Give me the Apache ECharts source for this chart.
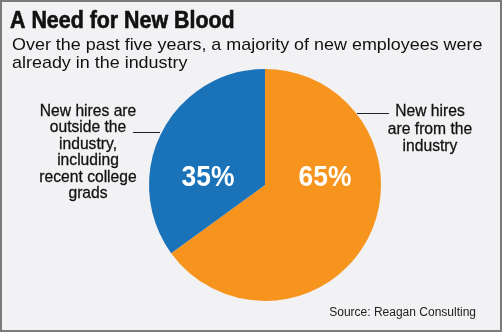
<!DOCTYPE html>
<html><head><meta charset="utf-8">
<script src="https://cdn.jsdelivr.net/npm/echarts@6/dist/echarts.min.js"></script>
<style>html,body{margin:0;padding:0;background:#f2f2f4}#c{width:502px;height:332px}</style>
</head><body><div id="c"></div>
<script>
const categories = ['New hires are from the industry', 'New hires are outside the industry, including recent college grads'];
const values = [65, 35];
const labelTexts = ['New hires\nare from the\nindustry', 'New hires are\noutside the\nindustry,\nincluding\nrecent college\ngrads'];
const colors = ['#f7941e', '#1a72b9'];
const titleText = 'A Need for New Blood';
const subtitleText = 'Over the past five years, a majority of new employees were\nalready in the industry';
const sourceText = 'Source: Reagan Consulting';

const sans = '"Liberation Sans", Arial, Helvetica, sans-serif';
const chart = echarts.init(document.getElementById('c'), null, {renderer: 'canvas'});
chart.setOption({
  backgroundColor: '#f2f2f4',
  animation: false,
  series: [{
    type: 'pie',
    center: [265, 185],
    radius: 116,
    startAngle: 90,
    clockwise: true,
    silent: true,
    z: 2,
    label: {show: false},
    labelLine: {show: false},
    data: categories.map((n, i) => ({
      name: n, value: values[i],
      itemStyle: {color: colors[i]}
    }))
  }],
  graphic: [
    {type: 'rect', z: 100, shape: {x: 1, y: 1, width: 500, height: 330}, style: {fill: 'none', stroke: '#7a7a7a', lineWidth: 2}},
    {type: 'text', z: 100, x: 10, y: 22, scaleX: 0.93, style: {text: titleText, font: 'bold 23px ' + sans, fill: '#111', stroke: '#111', lineWidth: 0.6, textVerticalAlign: 'middle'}},
    {type: 'text', z: 100, x: 12, y: 37, scaleX: 1.055, style: {text: subtitleText, font: '17px ' + sans, fill: '#111', lineHeight: 17.5, textVerticalAlign: 'top'}},
    {type: 'text', z: 100, x: 88, y: 103, scaleX: 0.92, style: {text: labelTexts[1], font: '17px ' + sans, fill: '#111', stroke: '#111', lineWidth: 0.3, lineHeight: 16.5, textAlign: 'center', textVerticalAlign: 'top'}},
    {type: 'text', z: 100, x: 430, y: 103, scaleX: 0.92, style: {text: labelTexts[0], font: '17px ' + sans, fill: '#111', stroke: '#111', lineWidth: 0.3, lineHeight: 17.5, textAlign: 'center', textVerticalAlign: 'top'}},
    {type: 'line', z: 100, shape: {x1: 133, y1: 132.5, x2: 160, y2: 132.5}, style: {stroke: '#222', lineWidth: 1}},
    {type: 'line', z: 100, shape: {x1: 357, y1: 113.5, x2: 389, y2: 113.5}, style: {stroke: '#222', lineWidth: 1}},
    {type: 'text', z: 100, x: 208, y: 178, scaleX: 0.91, style: {text: values[1] + '%', font: 'bold 29px ' + sans, fill: '#fff', textAlign: 'center', textVerticalAlign: 'middle'}},
    {type: 'text', z: 100, x: 325, y: 178, scaleX: 0.91, style: {text: values[0] + '%', font: 'bold 29px ' + sans, fill: '#fff', textAlign: 'center', textVerticalAlign: 'middle'}},
    {type: 'text', z: 100, x: 476, y: 313, style: {text: sourceText, font: '12px ' + sans, fill: '#222', textAlign: 'right', textVerticalAlign: 'middle'}}
  ]
});
</script></body></html>
